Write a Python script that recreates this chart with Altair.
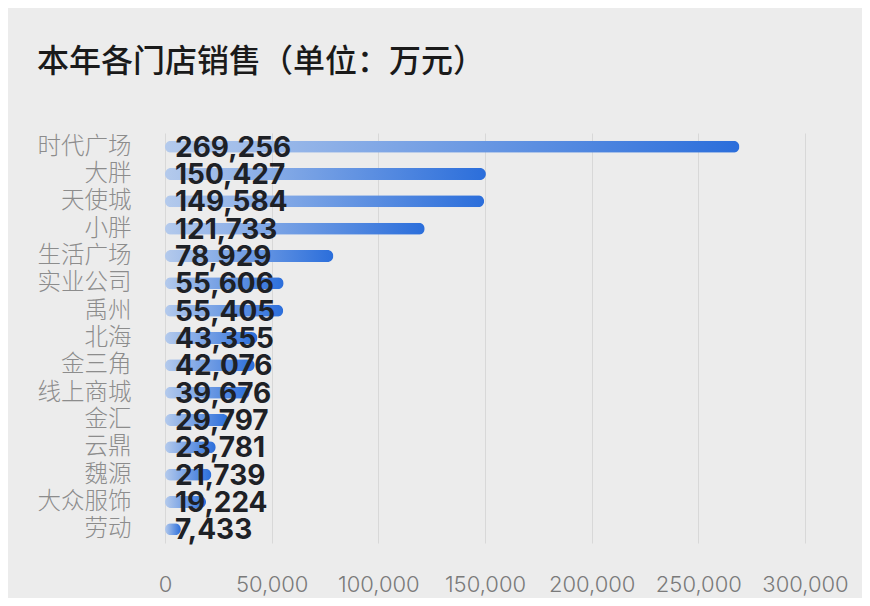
import altair as alt
import pandas as pd

stores = ["时代广场", "大胖", "天使城", "小胖", "生活广场", "实业公司", "禹州", "北海",
          "金三角", "线上商城", "金汇", "云鼎", "魏源", "大众服饰", "劳动"]
sales = [269256, 150427, 149584, 121733, 78929, 55606, 55405, 43355,
         42076, 39676, 29797, 23781, 21739, 19224, 7433]
x_ticks = [0, 50000, 100000, 150000, 200000, 250000, 300000]

df = pd.DataFrame({"store": stores, "sales": sales})

grad = alt.Gradient(
    gradient="linear",
    stops=[alt.GradientStop(color="#b4caec", offset=0),
           alt.GradientStop(color="#2b6edb", offset=1)],
    x1=0, x2=1, y1=0, y2=0,
)

y_enc = alt.Y("store:N", sort=None, title=None,
              scale=alt.Scale(paddingInner=0.0, paddingOuter=0.0),
              axis=alt.Axis(labelFont="Noto Sans CJK SC", labelFontSize=23.5,
                            labelColor="#8c8c8c", labelPadding=34,
                            ticks=False, domain=False, grid=False,
                            labelOverlap=False, labelFontWeight=300))

bars = alt.Chart(df).mark_bar(
    color=grad, height=12, cornerRadius=6
).encode(
    x=alt.X("sales:Q", title=None,
            scale=alt.Scale(domain=[0, 300000], nice=False),
            axis=alt.Axis(values=x_ticks, format=",.0f", labelFont="Inter",
                          labelFontSize=22, labelColor="#7a7a7a",
                          labelPadding=31, ticks=False, domain=False,
                          labelOverlap=False, labelFlush=False,
                          grid=True, gridColor="#d8d8d8", gridWidth=1,
                          labelFontWeight=300)),
    y=y_enc,
)

labels = alt.Chart(df).mark_text(
    align="left", baseline="middle", dx=10, dy=2,
    font="Inter", fontSize=28, fontWeight="bold", color="#1e2126"
).encode(
    x=alt.value(0),
    y=alt.Y("store:N", sort=None),
    text=alt.Text("sales:Q", format=","),
)

chart = alt.layer(bars, labels).properties(
    width=640, height=410,
    padding={"left": 157, "top": 125, "right": 57, "bottom": 55},
    autosize=alt.AutoSizeParams(type="none"),
    background="#ececec",
    title=alt.TitleParams("本年各门店销售（单位：万元）", anchor="start", frame="group",
                          font="Noto Sans CJK SC", fontSize=32,
                          fontWeight=500, color="#1a1a1a", dx=-128, dy=-50),
).configure_view(stroke=None)

chart.save("out.html", embed_options={"renderer": "svg", "actions": False})
